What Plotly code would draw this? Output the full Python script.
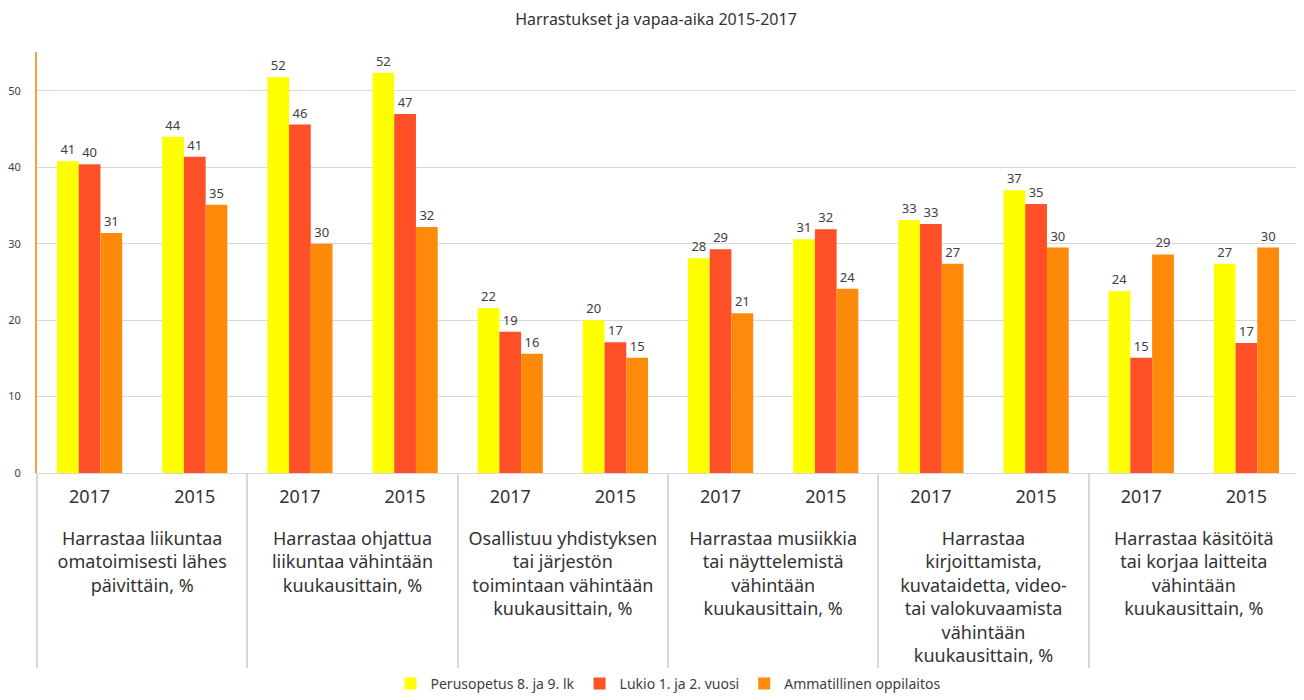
import plotly.graph_objects as go

categories = [
    "Harrastaa liikuntaa<br>omatoimisesti lähes<br>päivittäin, %",
    "Harrastaa ohjattua<br>liikuntaa vähintään<br>kuukausittain, %",
    "Osallistuu yhdistyksen<br>tai järjestön<br>toimintaan vähintään<br>kuukausittain, %",
    "Harrastaa musiikkia<br>tai näyttelemistä<br>vähintään<br>kuukausittain, %",
    "Harrastaa<br>kirjoittamista,<br>kuvataidetta, video-<br>tai valokuvaamista<br>vähintään<br>kuukausittain, %",
    "Harrastaa käsitöitä<br>tai korjaa laitteita<br>vähintään<br>kuukausittain, %",
]
years = ["2017", "2015"]

perusopetus = [40.8, 44.0, 51.8, 52.4, 21.6, 20.0, 28.1, 30.6, 33.1, 37.0, 23.8, 27.4]
lukio = [40.4, 41.4, 45.6, 47.0, 18.5, 17.1, 29.3, 31.9, 32.6, 35.2, 15.1, 17.0]
ammatillinen = [31.4, 35.1, 30.0, 32.2, 15.6, 15.1, 20.9, 24.1, 27.4, 29.5, 28.6, 29.5]

series = [
    ("Perusopetus 8. ja 9. lk", perusopetus, "#FFFF00"),
    ("Lukio 1. ja 2. vuosi", lukio, "#FF5028"),
    ("Ammatillinen oppilaitos", ammatillinen, "#FF8A0A"),
]

# leading blank line pushes the group names below the years
outer = ["<br>" + c for c in categories for _ in years]
inner = years * len(categories)

fig = go.Figure()
for name, vals, color in series:
    fig.add_trace(go.Bar(
        x=[outer, inner], y=vals, name=name,
        marker=dict(color=color, line=dict(width=0)),
        texttemplate="%{y:.0f}", textposition="outside",
        textfont=dict(size=13, color="#404040"), cliponaxis=False,
    ))

# page body has an 8px margin, so the figure is 8px smaller than the window
fig.update_layout(
    title=dict(text="Harrastukset ja vapaa-aika 2015-2017", x=0.5, y=0.983,
               yanchor="middle", font=dict(size=16, color="#333333")),
    font=dict(family="Noto Sans, sans-serif", color="#404040"),
    barmode="group", bargap=0.38, bargroupgap=0,
    plot_bgcolor="white", paper_bgcolor="white",
    margin=dict(l=29, r=5, t=44, b=227, autoexpand=False),
    width=1296, height=692,
    legend=dict(orientation="h", x=0.5, xanchor="center", yref="container",
                y=0.0, yanchor="bottom",
                font=dict(size=14, color="#404040"), itemwidth=30),
    xaxis=dict(type="multicategory", tickfont=dict(size=18, color="#333333"),
               showline=True, linecolor="#d9d9d9", showdividers=True,
               dividercolor="#d9d9d9", dividerwidth=1.5, ticks="",
               automargin=False, ticklabelstandoff=7),
    yaxis=dict(range=[0, 55.1], dtick=10, showgrid=True, gridcolor="#d9d9d9",
               showline=True, linecolor="#FF9B40", linewidth=2, zeroline=False,
               tickfont=dict(size=11, color="#404040"), ticks="",
               automargin=False, ticklabelstandoff=12),
)

fig.write_html("out.html")
